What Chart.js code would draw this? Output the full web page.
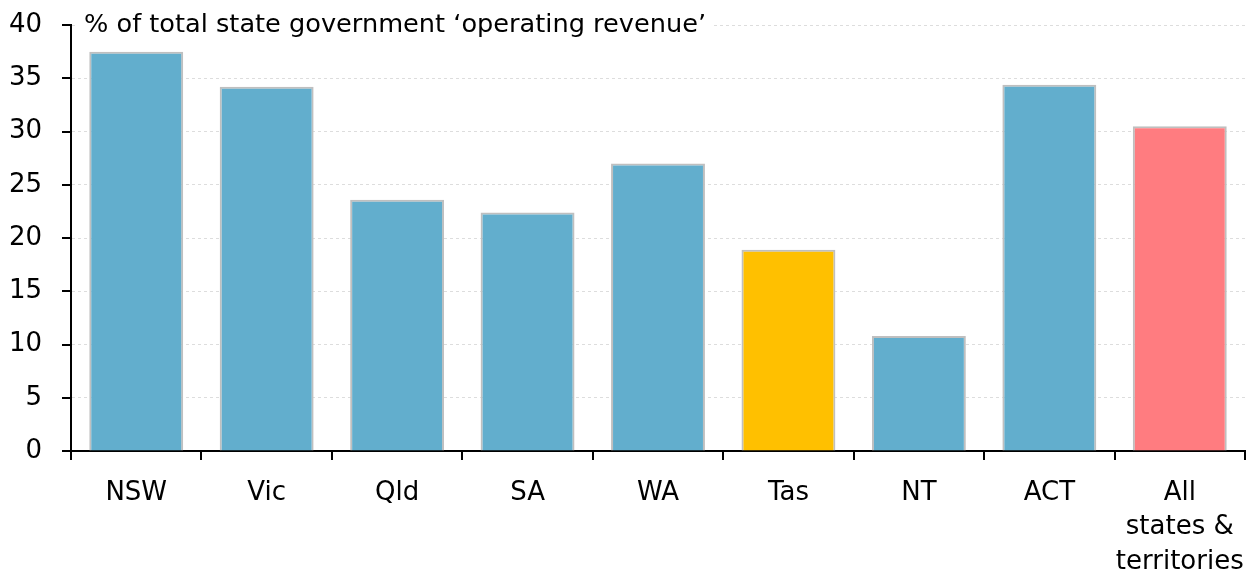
<!DOCTYPE html>
<html>
<head>
<meta charset="utf-8">
<script src="https://cdn.jsdelivr.net/npm/chart.js@4/dist/chart.umd.min.js"></script>
<style>
html,body{margin:0;padding:0;background:#fff;}
#wrap{width:1253px;height:576px;position:relative;}
</style>
</head>
<body>
<div id="wrap"><canvas id="c" width="1253" height="576"></canvas></div>
<script>
const categories = ["NSW", "Vic", "Qld", "SA", "WA", "Tas", "NT", "ACT", ["All", "states &", "territories"]];
const values = [37.5, 34.2, 23.6, 22.4, 27.0, 18.9, 10.8, 34.4, 30.5];
const barColors = ["#62AECD", "#62AECD", "#62AECD", "#62AECD", "#62AECD", "#FFC000", "#62AECD", "#62AECD", "#FF7C80"];
const yTicks = [0, 5, 10, 15, 20, 25, 30, 35, 40];
const unitLabel = "% of total state government \u2018operating revenue\u2019";

const FONT = "'DejaVu Sans', sans-serif";

const titlePlugin = {
  id: 'unitTitle',
  afterDraw(chart) {
    const {ctx, chartArea, scales} = chart;
    const y = scales.y.getPixelForValue(40);
    ctx.save();
    ctx.font = "24px " + FONT;
    let w = ctx.measureText(unitLabel).width;
    const size = Math.min(26, 24 * 622 / w);
    ctx.font = size.toFixed(2) + "px " + FONT;
    w = ctx.measureText(unitLabel).width;
    ctx.fillStyle = '#fff';
    ctx.fillRect(chartArea.left + 4, y - 16, w + 16, 32);
    ctx.fillStyle = '#000';
    ctx.textBaseline = 'middle';
    ctx.fillText(unitLabel, chartArea.left + 13, y);
    ctx.restore();
  }
};

new Chart(document.getElementById('c'), {
  type: 'bar',
  data: {
    labels: categories,
    datasets: [{
      data: values,
      backgroundColor: barColors,
      borderColor: '#BFBFBF',
      borderWidth: 2,
      barPercentage: 0.72,
      categoryPercentage: 1.0
    }]
  },
  options: {
    responsive: false,
    animation: false,
    layout: { padding: { left: 0, right: 8, top: 25, bottom: 0 } },
    plugins: { legend: { display: false }, tooltip: { enabled: false } },
    scales: {
      x: {
        offset: true,
        grid: { display: true, drawOnChartArea: false, drawTicks: true, tickLength: 9, offset: true, color: '#000', lineWidth: 2 },
        border: { display: true, color: '#000', width: 2 },
        ticks: { color: '#000', font: { family: FONT, size: 26, lineHeight: 1.32 }, padding: 16, maxRotation: 0, autoSkip: false },
        afterFit(s) { s.height = 125; s.paddingLeft = 0; s.paddingRight = 0; s.paddingTop = 0; s.paddingBottom = 0; }
      },
      y: {
        min: 0, max: 40,
        afterBuildTicks(s) { s.ticks = yTicks.map(v => ({ value: v })); },
        grid: { color: '#DDDDDD', lineWidth: 1, drawTicks: false },
        border: { display: true, color: '#000', width: 2, dash: [3, 3] },
        ticks: { color: '#000', font: { family: FONT, size: 26 }, padding: 29 },
        afterFit(s) { s.width = 71; s.paddingLeft = 0; s.paddingRight = 0; s.paddingTop = 0; s.paddingBottom = 0; }
      }
    }
  },
  plugins: [
    titlePlugin,
    {
      id: 'yTickMarks',
      afterDraw(chart) {
        const {ctx, scales} = chart;
        const y = scales.y;
        ctx.save();
        ctx.strokeStyle = '#000';
        ctx.lineWidth = 2;
        yTicks.forEach(v => {
          const py = Math.round(y.getPixelForValue(v));
          ctx.beginPath();
          ctx.moveTo(y.right - 9, py);
          ctx.lineTo(y.right, py);
          ctx.stroke();
        });
        ctx.restore();
      }
    }
  ]
});
</script>
</body>
</html>
